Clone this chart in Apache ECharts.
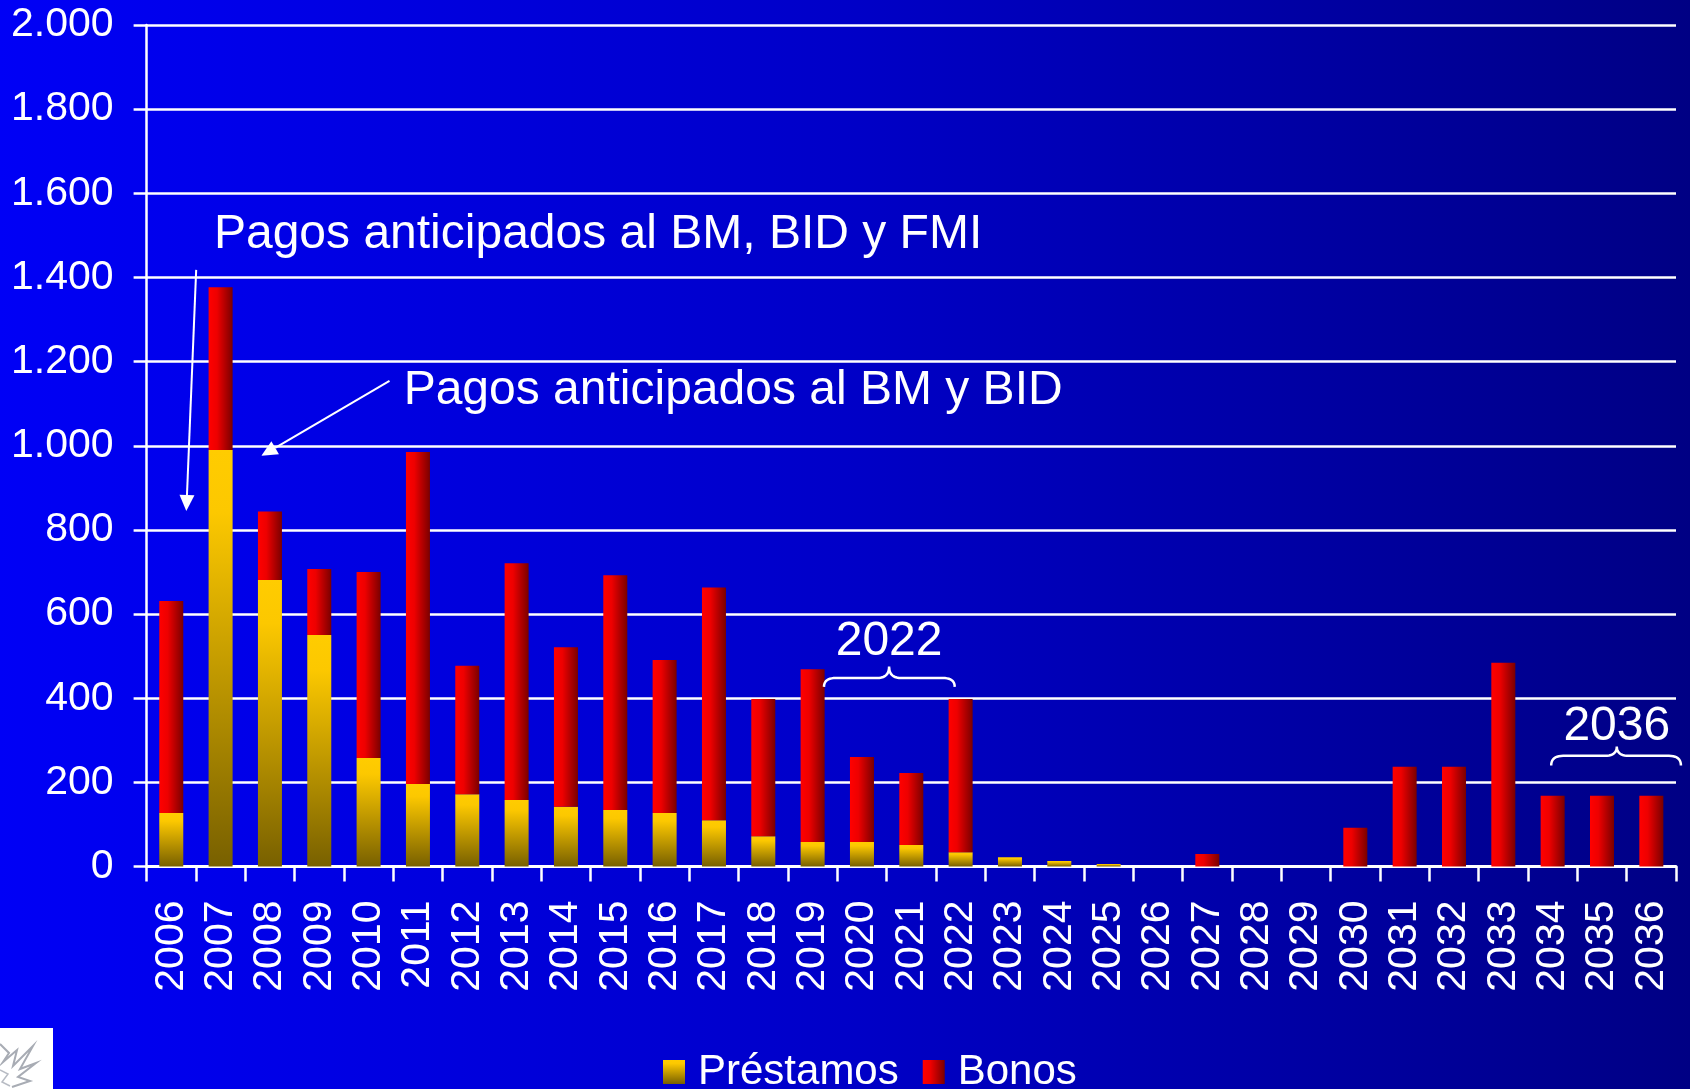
<!DOCTYPE html>
<html>
<head>
<meta charset="utf-8">
<script src="https://cdn.jsdelivr.net/npm/echarts@6/dist/echarts.min.js"></script>
<style>
  html, body { margin:0; padding:0; }
  #chart { width:1690px; height:1089px; background: linear-gradient(90deg, #0000F6 0%, #0000C8 50%, #000084 100%); }
</style>
</head>
<body>
<div id="chart"></div>
<script>
const years = ['2006','2007','2008','2009','2010','2011','2012','2013','2014','2015','2016','2017','2018','2019','2020','2021','2022','2023','2024','2025','2026','2027','2028','2029','2030','2031','2032','2033','2034','2035','2036'];
const prestamos = [127, 990, 681, 550, 258, 196, 172, 158, 142, 134, 127, 110, 72, 58, 58, 51, 34, 22, 13, 6, 0, 0, 0, 0, 0, 0, 0, 0, 0, 0, 0];
const bonos = [504, 387, 163, 157, 442, 789, 305, 563, 379, 558, 364, 553, 326, 411, 202, 171, 364, 0, 0, 0, 0, 30, 0, 0, 92, 237, 237, 484, 168, 168, 168];
const yTicks = { min: 0, max: 2000, interval: 200 };

const FONT = '"Liberation Sans", Arial, sans-serif';
const chart = echarts.init(document.getElementById('chart'), null, { renderer: 'canvas' });

const gradPrest = new echarts.graphic.LinearGradient(0, 0, 0, 1, [
  { offset: 0, color: '#FFCC00' }, { offset: 0.15, color: '#FCC800' }, { offset: 1, color: '#786000' }
]);
const gradBonos = new echarts.graphic.LinearGradient(0, 0, 1, 0, [
  { offset: 0, color: '#FF0000' }, { offset: 0.35, color: '#EE0000' }, { offset: 1, color: '#7A0000' }
]);

const fmt = v => String(v).replace(/\B(?=(\d{3})+(?!\d))/g, '.');

chart.setOption({
  backgroundColor: 'transparent',
  animation: false,
  grid: { left: 146.6, right: 14, top: 25, bottom: 222.5 },
  legend: {
    data: ['Préstamos', 'Bonos'],
    left: 663, top: 1051, padding: 0,
    itemWidth: 22, itemHeight: 24, itemGap: 24,
    icon: 'rect',
    textStyle: { color: '#FFFFFF', fontSize: 42, fontFamily: FONT, padding: [0, 0, 0, 8] }
  },
  xAxis: {
    type: 'category', data: years, boundaryGap: true,
    axisLine: { show: true, lineStyle: { color: '#FFFFFF', width: 3 } },
    axisTick: { show: true, interval: 0, length: 15, lineStyle: { color: '#FFFFFF', width: 2.5 } },
    axisLabel: { interval: 0, rotate: 90, margin: 34, color: '#FFFFFF', fontSize: 41, fontFamily: FONT }
  },
  yAxis: {
    type: 'value', min: yTicks.min, max: yTicks.max, interval: yTicks.interval,
    axisLine: { show: true, lineStyle: { color: '#FFFFFF', width: 2.5 } },
    axisTick: { show: true, length: 13, lineStyle: { color: '#FFFFFF', width: 2.5 } },
    splitLine: { show: true, lineStyle: { color: '#FFFFFF', width: 2.5 } },
    axisLabel: { margin: 33, color: '#FFFFFF', fontSize: 41, fontFamily: FONT, formatter: fmt }
  },
  series: [
    { name: 'Préstamos', type: 'bar', stack: 'total', barWidth: 24, data: prestamos, itemStyle: { color: gradPrest } },
    { name: 'Bonos', type: 'bar', stack: 'total', barWidth: 24, data: bonos, itemStyle: { color: gradBonos } }
  ]
});

// annotation helpers anchored to data coordinates
function P(ci, v) {
  const a = chart.convertToPixel({ xAxisIndex: 0, yAxisIndex: 0 }, [0, v]);
  const b = chart.convertToPixel({ xAxisIndex: 0, yAxisIndex: 0 }, [1, v]);
  return [a[0] + ci * (b[0] - a[0]), a[1]];
}
function arrow(from, to) {
  const p1 = P(from[0], from[1]), p2 = P(to[0], to[1]);
  const dx = p2[0] - p1[0], dy = p2[1] - p1[1], L = Math.hypot(dx, dy);
  const ux = dx / L, uy = dy / L, hl = 16, hw = 7.5;
  const bx = p2[0] - ux * hl, by = p2[1] - uy * hl;
  return [
    { type: 'line', shape: { x1: p1[0], y1: p1[1], x2: bx, y2: by }, style: { stroke: '#FFFFFF', lineWidth: 2 }, z: 100 },
    { type: 'polygon', shape: { points: [[p2[0], p2[1]], [bx - uy * hw, by + ux * hw], [bx + uy * hw, by - ux * hw]] }, style: { fill: '#FFFFFF' }, z: 100 }
  ];
}
function quad(p0, c, p1, n, out) {
  for (let i = 0; i <= n; i++) {
    const t = i / n;
    out.push([(1-t)*(1-t)*p0[0] + 2*(1-t)*t*c[0] + t*t*p1[0], (1-t)*(1-t)*p0[1] + 2*(1-t)*t*c[1] + t*t*p1[1]]);
  }
}
function brace(ciL, ciP, ciR, vEnd, vMid, vTop) {
  const xL = P(ciL, 0)[0], xP = P(ciP, 0)[0], xR = P(ciR, 0)[0];
  const yE = P(0, vEnd)[1], yM = P(0, vMid)[1], yT = P(0, vTop)[1];
  const r = 12, pts = [];
  quad([xL, yE], [xL, yM], [xL + r, yM], 10, pts);
  quad([xP - r, yM], [xP, yM], [xP, yT], 10, pts);
  quad([xP, yT], [xP, yM], [xP + r, yM], 10, pts);
  quad([xR - r, yM], [xR, yM], [xR, yE], 10, pts);
  return { type: 'polyline', shape: { points: pts }, style: { stroke: '#FFFFFF', lineWidth: 2.5, fill: null }, z: 100 };
}
function label(text, ci, v, align, size) {
  const p = P(ci, v);
  return { type: 'text', x: p[0], y: p[1], z: 100,
    style: { text, fill: '#FFFFFF', font: 'normal ' + size + 'px ' + FONT, textAlign: align, textVerticalAlign: 'middle' } };
}

const g = [];
g.push(label('Pagos anticipados al BM, BID y FMI', 0.865, 1502, 'left', 48));
g.push(...arrow([0.505, 1418], [0.305, 845]));
g.push(label('Pagos anticipados al BM y BID', 4.71, 1130, 'left', 48));
g.push(...arrow([4.424, 1154], [1.826, 976]));
g.push(label('2022', 14.55, 534, 'center', 48));
g.push(brace(13.23, 14.55, 15.88, 427, 448, 475));
g.push(label('2036', 29.3, 332, 'center', 48));
g.push(brace(27.97, 29.3, 30.6, 240, 263, 285));

// logo corner
g.push({ type: 'rect', shape: { x: 0, y: 1028, width: 53, height: 61 }, style: { fill: '#FFFFFF' }, z: 90 });
g.push({ type: 'polyline', shape: { points: [[0,1044],[9,1053],[3,1062],[17,1050],[13,1066],[33,1046],[20,1069],[36,1063],[18,1077],[30,1081],[12,1087]] },
  style: { stroke: '#A8ACB4', lineWidth: 2, fill: null }, z: 91 });
g.push({ type: 'polyline', shape: { points: [[0,1070],[8,1074],[2,1082],[10,1086]] },
  style: { stroke: '#B8BCC4', lineWidth: 1.5, fill: null }, z: 91 });

chart.setOption({ graphic: { elements: g } });
</script>
</body>
</html>
